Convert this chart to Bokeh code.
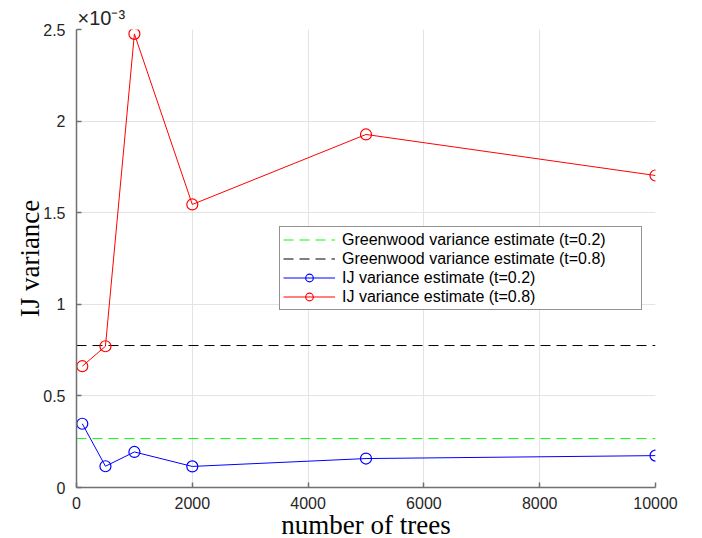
from bokeh.plotting import figure
from bokeh.models import (Range1d, Legend, LegendItem, Title, FixedTicker,
                          ColumnDataSource)
from bokeh.embed import file_html
from bokeh.resources import INLINE

# number of trees in the forest
n_trees = [100, 500, 1000, 2000, 5000, 10000]

# infinitesimal jackknife variance estimates
ij_var_t02 = [0.348e-3, 0.116e-3, 0.194e-3, 0.115e-3, 0.158e-3, 0.174e-3]
ij_var_t08 = [0.662e-3, 0.771e-3, 2.476e-3, 1.545e-3, 1.927e-3, 1.703e-3]

# Greenwood variance estimates (constant in the number of trees)
greenwood_t02 = 0.267e-3
greenwood_t08 = 0.775e-3

x_ticks = [0, 2000, 4000, 6000, 8000, 10000]
y_ticks = [0, 0.5, 1, 1.5, 2, 2.5]
SCALE = 1e-3  # y values are shown in units of 10^-3

TICK_FONT = "Liberation Sans"
LABEL_FONT = "Liberation Serif"
AXIS_GREY = "#707070"
TEXT_GREY = "#262626"

p = figure(frame_width=579, frame_height=458,
           x_range=Range1d(0, 10000), y_range=Range1d(0, 2.5),
           output_backend="svg", toolbar_location=None,
           min_border_left=76, min_border_right=47,
           min_border_top=29, min_border_bottom=51)
p.outline_line_color = None
p.background_fill_color = "white"
p.border_fill_color = "white"

# exponent marker of the y axis, drawn just above the frame's top-left corner
p.title = Title(text="×10⁻³", align="left", offset=1, standoff=1,
                text_font=TICK_FONT, text_font_size="20px",
                text_font_style="normal", text_color=TEXT_GREY)

# grid
for g in (p.xgrid, p.ygrid):
    g.grid_line_color = "#e3e3e3"
    g.grid_line_width = 1

# axes
p.xaxis.ticker = FixedTicker(ticks=x_ticks)
p.yaxis.ticker = FixedTicker(ticks=y_ticks)
p.yaxis.major_label_overrides = {0: "0", 0.5: "0.5", 1: "1", 1.5: "1.5",
                                 2: "2", 2.5: "2.5"}
for ax in (p.xaxis, p.yaxis):
    ax.axis_line_color = AXIS_GREY
    ax.axis_line_width = 1.5
    ax.major_tick_line_color = AXIS_GREY
    ax.major_tick_line_width = 1.5
    ax.major_tick_in = 5
    ax.major_tick_out = 0
    ax.minor_tick_line_color = None
    ax.major_label_text_font = TICK_FONT
    ax.major_label_text_font_size = "16px"
    ax.major_label_text_color = TEXT_GREY
    ax.axis_label_text_font = LABEL_FONT
    ax.axis_label_text_font_style = "normal"
    ax.axis_label_text_color = "black"
    ax.axis_label_text_font_size = "27px"

p.xaxis.major_label_standoff = 9
p.yaxis.major_label_standoff = 11
p.xaxis.axis_label = "number of trees"
p.xaxis.axis_label_standoff = -2
p.yaxis.axis_label = "IJ variance"
p.yaxis.axis_label_standoff = -5

# horizontal Greenwood reference lines
gw02 = p.line(x=[0, 10000], y=[greenwood_t02 / SCALE] * 2,
              line_color="#00ff00", line_width=1, line_dash="10 6")
gw08 = p.line(x=[0, 10000], y=[greenwood_t08 / SCALE] * 2,
              line_color="#000000", line_width=1, line_dash="10 6")

# IJ estimates
src02 = ColumnDataSource(data=dict(x=n_trees, y=[v / SCALE for v in ij_var_t02]))
src08 = ColumnDataSource(data=dict(x=n_trees, y=[v / SCALE for v in ij_var_t08]))

l02 = p.line("x", "y", source=src02, line_color="#0000ff", line_width=1)
m02 = p.scatter("x", "y", source=src02, marker="circle", size=11,
                line_color="#0000ff", line_width=1.2, fill_alpha=0)
l08 = p.line("x", "y", source=src08, line_color="#ff0000", line_width=1)
m08 = p.scatter("x", "y", source=src08, marker="circle", size=11,
                line_color="#ff0000", line_width=1.2, fill_alpha=0)

legend = Legend(items=[
    LegendItem(label="Greenwood variance estimate (t=0.2)", renderers=[gw02]),
    LegendItem(label="Greenwood variance estimate (t=0.8)", renderers=[gw08]),
    LegendItem(label="IJ variance estimate (t=0.2)", renderers=[l02, m02]),
    LegendItem(label="IJ variance estimate (t=0.8)", renderers=[l08, m08]),
], location=(203, 177))
legend.label_text_font = TICK_FONT
legend.label_text_font_size = "16px"
legend.label_text_color = "black"
legend.glyph_width = 52
legend.glyph_height = 19
legend.label_height = 19
legend.label_width = 296
legend.label_standoff = 7
legend.spacing = 0
legend.padding = 3
legend.margin = 0
legend.border_line_color = TEXT_GREY
legend.border_line_width = 1
legend.background_fill_color = "white"
legend.background_fill_alpha = 1
p.add_layout(legend, "center")

open("out.html", "w").write(file_html(p, INLINE))
